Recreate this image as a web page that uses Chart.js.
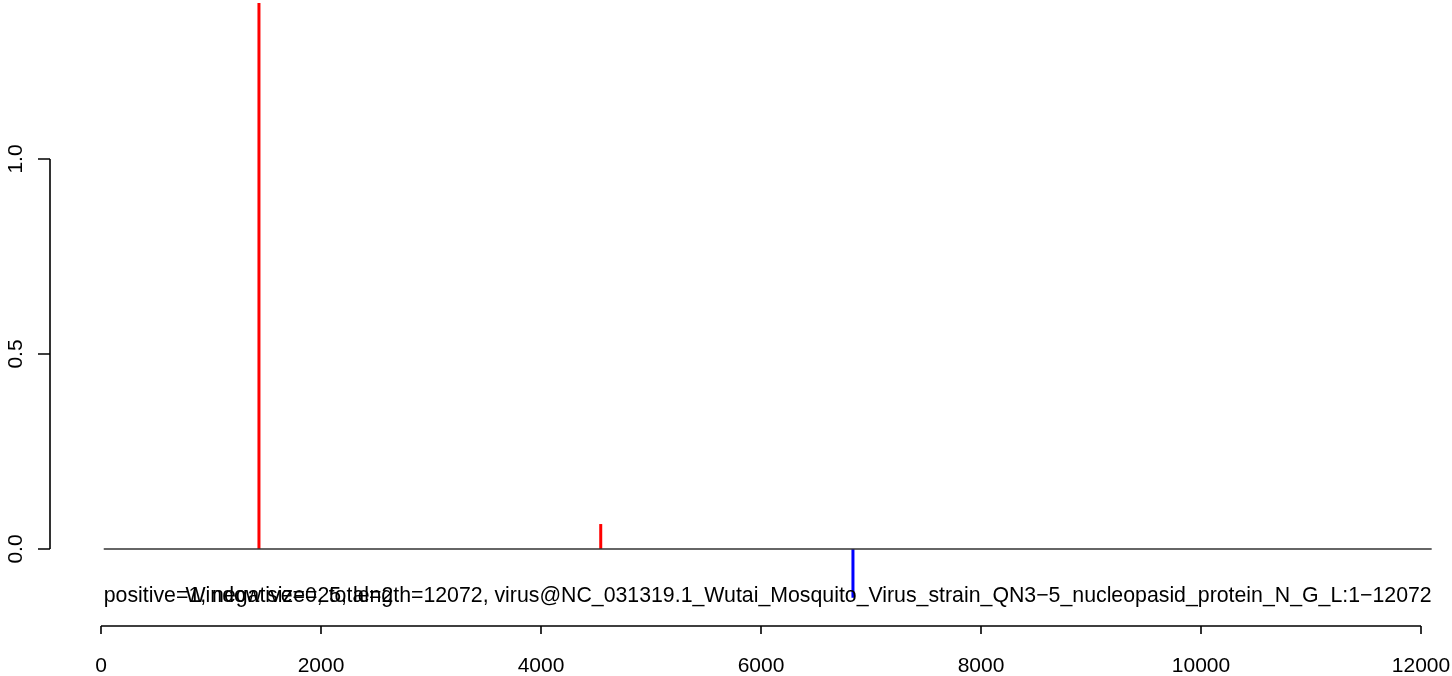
<!DOCTYPE html>
<html>
<head>
<meta charset="utf-8">
<script src="https://cdn.jsdelivr.net/npm/chart.js@4.4.1/dist/chart.umd.min.js"></script>
<style>
html,body{margin:0;padding:0;background:#fff;}
#wrap{width:1452px;height:676px;position:relative;}
</style>
</head>
<body>
<div id="wrap"><canvas id="c" width="1452" height="676"></canvas></div>
<script>
// ---- data ----
const posPositions = [1436, 4543];
const posValues = [1.40, 0.064];
const negPositions = [6836];
const negValues = [-0.125];
const baselineRange = [25, 12097];
const xTicks = [0, 2000, 4000, 6000, 8000, 10000, 12000];
const yTicks = [0.0, 0.5, 1.0];
const yTickLabels = ["0.0", "0.5", "1.0"];
const infoText = "positive=1, negative=0, total=2";
const titleText = "Window size=25, length=12072, virus@NC_031319.1_Wutai_Mosquito_Virus_strain_QN3\u22125_nucleopasid_protein_N_G_L:1\u221212072";
const textY = -0.136;

const FONT = '"Liberation Sans", Arial, Helvetica, sans-serif';

const datasets = [];
datasets.push({
  data: [{x: baselineRange[0], y: 0}, {x: baselineRange[1], y: 0}],
  borderColor: '#333333', borderWidth: 1.5, pointRadius: 0
});
posPositions.forEach((p, i) => datasets.push({
  data: [{x: p, y: 0}, {x: p, y: posValues[i]}],
  borderColor: '#FF0000', borderWidth: 3, pointRadius: 0, borderCapStyle: 'butt'
}));
negPositions.forEach((p, i) => datasets.push({
  data: [{x: p, y: 0}, {x: p, y: negValues[i]}],
  borderColor: '#0000FF', borderWidth: 3, pointRadius: 0, borderCapStyle: 'butt'
}));

const axesPlugin = {
  id: 'rAxes',
  afterDatasetsDraw(chart) {
    const ctx = chart.ctx;
    const xs = chart.scales.x, ys = chart.scales.y;
    const area = chart.chartArea;
    ctx.save();
    ctx.strokeStyle = '#000';
    ctx.fillStyle = '#000';
    ctx.lineWidth = 1.6;
    // x axis
    const ax = area.bottom;
    ctx.beginPath();
    ctx.moveTo(xs.getPixelForValue(xTicks[0]), ax);
    ctx.lineTo(xs.getPixelForValue(xTicks[xTicks.length - 1]), ax);
    xTicks.forEach(v => {
      const px = xs.getPixelForValue(v);
      ctx.moveTo(px, ax);
      ctx.lineTo(px, ax + 8);
    });
    ctx.stroke();
    ctx.font = '21px ' + FONT;
    ctx.textAlign = 'center';
    ctx.textBaseline = 'alphabetic';
    xTicks.forEach(v => ctx.fillText(String(v), xs.getPixelForValue(v), ax + 46));
    // y axis
    const ay = area.left;
    ctx.beginPath();
    ctx.moveTo(ay, ys.getPixelForValue(yTicks[0]));
    ctx.lineTo(ay, ys.getPixelForValue(yTicks[yTicks.length - 1]));
    yTicks.forEach(v => {
      const py = ys.getPixelForValue(v);
      ctx.moveTo(ay, py);
      ctx.lineTo(ay - 12, py);
    });
    ctx.stroke();
    yTicks.forEach((v, i) => {
      const py = ys.getPixelForValue(v);
      ctx.save();
      ctx.translate(22, py);
      ctx.rotate(-Math.PI / 2);
      ctx.textAlign = 'center';
      ctx.fillText(yTickLabels[i], 0, 0);
      ctx.restore();
    });
    // texts
    ctx.font = '21.3px ' + FONT;
    const ty = ys.getPixelForValue(textY);
    ctx.textAlign = 'left';
    ctx.fillText(infoText, xs.getPixelForValue(baselineRange[0]), ty);
    ctx.textAlign = 'right';
    ctx.fillText(titleText, xs.getPixelForValue(baselineRange[1]), ty);
    ctx.restore();
  }
};

new Chart(document.getElementById('c'), {
  type: 'line',
  data: { datasets },
  options: {
    responsive: false,
    animation: false,
    events: [],
    layout: { padding: { left: 50, right: 12, top: 0, bottom: 50 } },
    plugins: { legend: { display: false }, tooltip: { enabled: false } },
    scales: {
      x: { type: 'linear', display: false, min: -463.6, max: 12172.7 },
      y: { type: 'linear', display: false, min: -0.19744, max: 1.40769 }
    }
  },
  plugins: [axesPlugin]
});
</script>
</body>
</html>
